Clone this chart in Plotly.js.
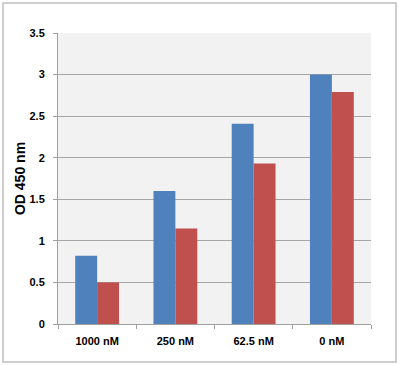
<!DOCTYPE html>
<html><head><meta charset="utf-8">
<script src="https://cdn.plot.ly/plotly-3.0.1.min.js"></script>
<style>body{margin:0;background:#fff}#chart{width:400px;height:365px}</style>
</head><body><div id="chart"></div>
<script>
const categories = ["1000 nM", "250 nM", "62.5 nM", "0 nM"];
const seriesBlue = [0.82, 1.6, 2.41, 3.0];
const seriesRed = [0.5, 1.15, 1.93, 2.79];
const yTicks = [0, 0.5, 1, 1.5, 2, 2.5, 3, 3.5];
const yTickLabels = ["0", "0.5", "1", "1.5", "2", "2.5", "3", "3.5"];

const L = 58, R = 29, T = 33, B = 41, W = 400, H = 365;
const pw = W - L - R, ph = H - T - B;
const px = x => (x - L) / pw;
const py = y => (H - B - y) / ph;

const data = [
  {type: "bar", x: categories, y: seriesBlue, marker: {color: "#4F81BD"}, name: "A", hoverinfo: "none"},
  {type: "bar", x: categories, y: seriesRed, marker: {color: "#C0504D"}, name: "B", hoverinfo: "none"}
];
const layout = {
  width: W, height: H,
  margin: {l: L, r: R, t: T, b: B, pad: 0},
  paper_bgcolor: "#FFFFFF",
  plot_bgcolor: "#F2F2F2",
  showlegend: false,
  barmode: "group",
  bargap: 0.44,
  bargroupgap: 0,
  font: {family: "Liberation Sans, Arial, sans-serif", color: "#000"},
  xaxis: {
    type: "category",
    tickson: "boundaries",
    ticks: "outside", ticklen: 4, tickcolor: "#A0A0A0", tickwidth: 1,
    ticklabelstandoff: 7,
    showline: true, linecolor: "#A0A0A0", linewidth: 1,
    showgrid: false,
    tickfont: {size: 11, family: "Liberation Sans, Arial, sans-serif", weight: "bold"},
    fixedrange: true
  },
  yaxis: {
    range: [0, 3.5],
    tickvals: yTicks, ticktext: yTickLabels,
    ticks: "outside", ticklen: 4, tickcolor: "#A0A0A0", tickwidth: 1,
    ticklabelstandoff: 6,
    showline: true, linecolor: "#A0A0A0", linewidth: 1,
    showgrid: true, gridcolor: "#A6A6A6", gridwidth: 1,
    zeroline: false,
    tickfont: {size: 11, family: "Liberation Sans, Arial, sans-serif", weight: "bold"},
    title: {text: "OD 450 nm", font: {size: 14, family: "Liberation Sans, Arial, sans-serif", weight: "bold"}, standoff: 0},
    fixedrange: true
  },
  shapes: [{
    type: "rect", xref: "paper", yref: "paper", layer: "above",
    x0: px(3), x1: px(396), y0: py(362), y1: py(3),
    line: {color: "#BFBFBF", width: 1.5}, fillcolor: "rgba(0,0,0,0)"
  }]
};
Plotly.newPlot("chart", data, layout, {displayModeBar: false, staticPlot: true});
</script></body></html>
